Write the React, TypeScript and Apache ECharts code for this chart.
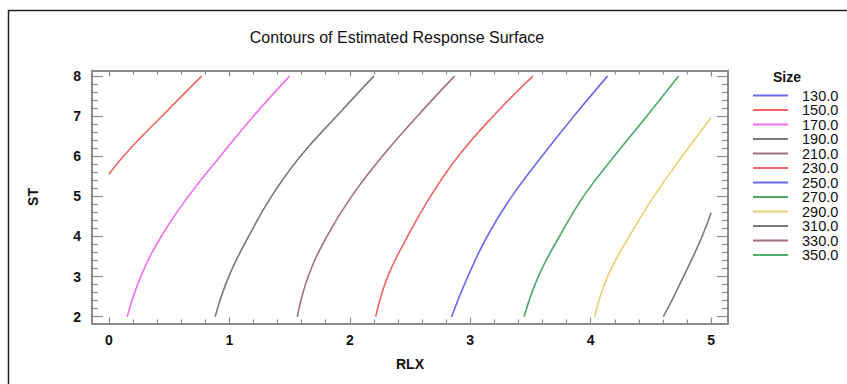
import React, { useEffect, useRef } from "react";
import * as echarts from "echarts";

// Contour levels (legend) and colours
const levels = ["130.0", "150.0", "170.0", "190.0", "210.0", "230.0", "250.0", "270.0", "290.0", "310.0", "330.0", "350.0"];
const levelColors = ["#6a6af0", "#f06464", "#f070f0", "#7a7a7a", "#a0707c", "#f06464", "#6a6af0", "#4ea86a", "#e8d070", "#7a7a7a", "#a0707c", "#4eb06a"];

// Tick values
const xMajor = [0, 1, 2, 3, 4, 5];
const xMinor = [0.2, 0.4, 0.6, 0.8, 1.2, 1.4, 1.6, 1.8, 2.2, 2.4, 2.6, 2.8, 3.2, 3.4, 3.6, 3.8, 4.2, 4.4, 4.6, 4.8];
const yMajor = [2, 3, 4, 5, 6, 7, 8];
const yMinor = [2.2, 2.4, 2.6, 2.8, 3.2, 3.4, 3.6, 3.8, 4.2, 4.4, 4.6, 4.8, 5.2, 5.4, 5.6, 5.8, 6.2, 6.4, 6.6, 6.8, 7.2, 7.4, 7.6, 7.8];

// Contour lines: [RLX, ST]
const c130: number[][] = [];
const c150 = [[0.0, 5.55], [0.12, 6.0], [0.275, 6.5], [0.44, 7.0], [0.605, 7.5], [0.77, 8.0]];
const c170 = [[0.152, 2.0], [0.265, 3.0], [0.435, 4.0], [0.66, 5.0], [0.925, 6.0], [1.2, 7.0], [1.5, 8.0]];
const c190 = [[0.882, 2.0], [0.995, 3.0], [1.16, 4.0], [1.35, 5.0], [1.59, 6.0], [1.89, 7.0], [2.2, 8.0]];
const c210 = [[1.564, 2.0], [1.655, 3.0], [1.81, 4.0], [2.015, 5.0], [2.27, 6.0], [2.56, 7.0], [2.87, 8.0]];
const c230 = [[2.215, 2.0], [2.315, 3.0], [2.48, 4.0], [2.67, 5.0], [2.9, 6.0], [3.19, 7.0], [3.52, 8.0]];
const c250 = [[2.845, 2.0], [2.98, 3.0], [3.14, 4.0], [3.345, 5.0], [3.595, 6.0], [3.86, 7.0], [4.14, 8.0]];
const c270 = [[3.447, 2.0], [3.565, 3.0], [3.74, 4.0], [3.94, 5.0], [4.195, 6.0], [4.465, 7.0], [4.73, 8.0]];
const c290 = [[4.032, 2.0], [4.14, 3.0], [4.32, 4.0], [4.525, 5.0], [4.76, 6.0], [5.0, 6.96]];
const c310 = [[4.603, 2.0], [4.69, 2.5], [4.77, 3.0], [4.85, 3.5], [4.925, 4.0], [5.0, 4.59]];
const c330: number[][] = [];
const c350: number[][] = [];
const contourData = [c130, c150, c170, c190, c210, c230, c250, c270, c290, c310, c330, c350];

const FONT = "'Liberation Sans', Arial, sans-serif";
const AXIS_GRAY = "#8a8a8a";

export default function App() {
  const ref = useRef<HTMLDivElement>(null);
  useEffect(() => {
    if (!ref.current) return;
    const chart = echarts.init(ref.current, undefined, { renderer: "svg" });
    const xRange = { min: -0.14, max: 5.14 };
    const yRange = { min: 1.83, max: 8.14 };
    const tickLine = { color: AXIS_GRAY, width: 1.2 };
    const mkX = (position: string, values: number[], len: number, showLine: boolean, showLabel: boolean) => ({
      type: "value",
      position,
      ...xRange,
      axisLine: { show: showLine, onZero: false, lineStyle: { color: AXIS_GRAY, width: 2 } },
      axisTick: { show: true, inside: true, length: len, customValues: values, lineStyle: tickLine },
      axisLabel: showLabel
        ? { show: true, customValues: xMajor, fontFamily: FONT, fontSize: 14, fontWeight: "bold", color: "#111", margin: 9 }
        : { show: false },
      splitLine: { show: false },
    });
    const mkY = (position: string, values: number[], len: number, showLine: boolean, showLabel: boolean) => ({
      type: "value",
      position,
      ...yRange,
      axisLine: { show: showLine, onZero: false, lineStyle: { color: AXIS_GRAY, width: 2 } },
      axisTick: { show: true, inside: true, length: len, customValues: values, lineStyle: tickLine },
      axisLabel: showLabel
        ? { show: true, customValues: yMajor, fontFamily: FONT, fontSize: 14, fontWeight: "bold", color: "#111", margin: 11 }
        : { show: false },
      splitLine: { show: false },
    });

    const series = levels.map((name, i) => ({
      name,
      type: "line",
      xAxisIndex: 0,
      yAxisIndex: 0,
      data: contourData[i],
      showSymbol: false,
      smooth: 0.45,
      clip: true,
      itemStyle: { color: levelColors[i] },
      lineStyle: { color: levelColors[i], width: 1.6 },
    }));

    chart.setOption({
      animation: false,
      backgroundColor: "#ffffff",
      grid: { left: 92, right: 119, top: 70.5, bottom: 60.5, containLabel: false },
      xAxis: [
        mkX("bottom", xMajor, 6, true, true),
        mkX("bottom", xMinor, 4, false, false),
        mkX("top", xMajor, 6, true, false),
        mkX("top", xMinor, 4, false, false),
      ],
      yAxis: [
        mkY("left", yMajor, 11, true, true),
        mkY("left", yMinor, 6, false, false),
        mkY("right", yMajor, 11, true, false),
        mkY("right", yMinor, 6, false, false),
      ],
      legend: {
        orient: "vertical",
        left: 748,
        top: 83,
        padding: 5,
        icon: "rect",
        itemWidth: 35,
        itemHeight: 2,
        itemGap: -0.5,
        selectedMode: false,
        data: levels,
        textStyle: { fontFamily: FONT, fontSize: 14.5, color: "#111", padding: [0, 0, 0, 9] },
      },
      graphic: [
        {
          type: "rect",
          shape: { x: 8.5, y: 10.5, width: 900, height: 500 },
          style: { fill: "none", stroke: "#222", lineWidth: 1.5 },
          silent: true,
        },
        {
          type: "text",
          x: 397,
          y: 37,
          style: { text: "Contours of Estimated Response Surface", fontFamily: FONT, fontSize: 16, fill: "#111", textAlign: "center", textVerticalAlign: "middle" },
        },
        {
          type: "text",
          x: 787,
          y: 77,
          style: { text: "Size", fontFamily: FONT, fontSize: 14, fontWeight: "bold", fill: "#111", textAlign: "center", textVerticalAlign: "middle" },
        },
        {
          type: "text",
          x: 33,
          y: 197,
          rotation: Math.PI / 2,
          style: { text: "ST", fontFamily: FONT, fontSize: 14, fontWeight: "bold", fill: "#111", textAlign: "center", textVerticalAlign: "middle" },
        },
        {
          type: "text",
          x: 410,
          y: 364,
          style: { text: "RLX", fontFamily: FONT, fontSize: 14, fontWeight: "bold", fill: "#111", textAlign: "center", textVerticalAlign: "middle" },
        },
      ],
      series,
    });
    return () => chart.dispose();
  }, []);
  return <div ref={ref} style={{ position: "fixed", left: 0, top: 0, width: 847, height: 384 }} />;
}
